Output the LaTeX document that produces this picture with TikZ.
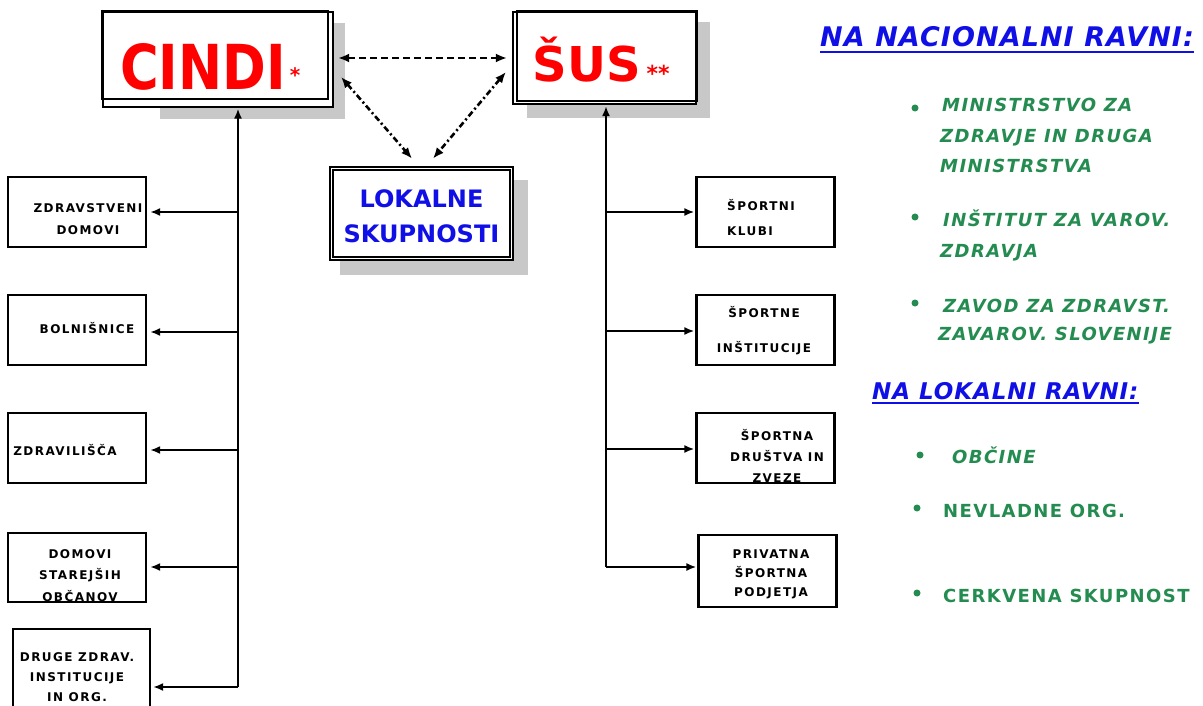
\documentclass[tikz,border=0pt]{standalone}
\usepackage{fontspec}
\setmainfont{DejaVu Sans}
\newfontfamily\lblfont[LetterSpace=12]{DejaVu Sans}
\newfontfamily\grnfont[LetterSpace=8]{DejaVu Sans}
\newfontfamily\hdrfont[LetterSpace=4]{DejaVu Sans}
\usetikzlibrary{arrows.meta,calc}
\definecolor{cred}{RGB}{255,0,0}
\definecolor{cblue}{RGB}{16,16,230}
\definecolor{cgreen}{RGB}{36,140,80}
\definecolor{shadowgray}{RGB}{200,200,200}
\tikzset{
  boxline/.style={draw=black, line width=2.2pt},
  bigbox/.style={boxline, fill=white, rectangle, inner sep=0pt},
  smallbox/.style={boxline, fill=white, rectangle, inner sep=0pt, minimum width=138pt, minimum height=70pt},
  lbl/.style={inner sep=0pt, align=center, font=\lblfont\bfseries\fontsize{12}{22}\selectfont},
  conn/.style={draw=black, line width=2.4pt, -{Latex[length=10pt,width=8pt]}},
  dasharr/.style={draw=black, line width=2.6pt, {Latex[length=11pt,width=9pt]}-{Latex[length=11pt,width=9pt]}},
  hdr/.style={inner sep=0pt, anchor=base west, text=cblue},
  grn/.style={inner sep=0pt, anchor=base west, text=cgreen},
  bullet/.style={circle, fill=cgreen, inner sep=0pt, minimum size=7pt},
}
\begin{document}
\begin{tikzpicture}[x=1pt,y=-1pt]
\useasboundingbox (0,0) rectangle (1203,706);
\clip (0,0) rectangle (1203,706);
\fill[white] (0,0) rectangle (1203,706);
% shadows
\fill[shadowgray] (160,23) rectangle (345,119);
\fill[shadowgray] (527,22) rectangle (710,118);
\fill[shadowgray] (340,180) rectangle (528,275);
% main boxes
\node[bigbox, minimum width=230pt, minimum height=95pt] (cindi) at (218,59.5) {};
\draw[boxline] (cindi.north west) rectangle ($(cindi.south east)+(-6,-9)$);
\node[bigbox, minimum width=183pt, minimum height=92pt] (sus) at (604.5,58) {};
\draw[boxline] ($(sus.north west)+(5,0)$) rectangle ($(sus.south east)+(0,-4)$);
\node[bigbox, line width=2.8pt, minimum width=183pt, minimum height=93pt] (lok) at (421.5,213.5) {};
\draw[black, line width=1.4pt] ($(lok.north west)+(4.5,4.5)$) rectangle ($(lok.south east)+(-4.5,-4.5)$);
% main texts
\node[anchor=base, inner sep=0pt, text=cred, font=\bfseries\fontsize{62}{62}\selectfont] (cinditxt) at (203,90) {\scalebox{0.85}[1]{CINDI}};
\node[inner sep=0pt, text=cred, font=\bfseries\fontsize{20}{20}\selectfont] (cast) at (295,75) {*};
\node[anchor=base, inner sep=0pt, text=cred, font=\bfseries\fontsize{48}{48}\selectfont] (sustxt) at (587,82) {ŠUS};
\node[inner sep=0pt, text=cred, font=\bfseries\fontsize{22}{22}\selectfont] (sast) at (658,73) {**};
\node[inner sep=0pt, align=center, text=cblue, font=\bfseries\fontsize{24}{35}\selectfont] (loktxt) at (421.5,216.5) {LOKALNE\\SKUPNOSTI};
% dashed arrows
\draw[dasharr, dash pattern=on 7pt off 4pt] ($(cindi.east)+(4,-1.5)$) -- ($(sus.west)+(-5,0)$);
\draw[dasharr, dash pattern=on 6pt off 3pt on 2pt off 3pt] ($(cindi.east)+(7,17.5)$) -- ($(lok.north)+(-9.5,-7)$);
\draw[dasharr, dash pattern=on 6pt off 3pt on 2pt off 3pt] ($(sus.west)+(-6,14)$) -- ($(lok.north)+(11.5,-7)$);
% left boxes
\node[smallbox] (b1) at (77,212) {};
\node[smallbox] (b2) at (77,330) {};
\node[smallbox] (b3) at (77,448) {};
\node[smallbox, minimum height=69pt] (b4) at (77,567.5) {};
\node[smallbox, minimum width=137pt, minimum height=83pt] (b5) at (81.5,670.5) {};
\node[lbl] (t1) at (88,219) {ZDRAVSTVENI\\DOMOVI};
\node[lbl] (t2) at (87,328) {BOLNIŠNICE};
\node[lbl] (t3) at (65,450) {ZDRAVILIŠČA};
\node[lbl, font=\lblfont\bfseries\fontsize{12}{21.5}\selectfont] (t4) at (80,575.5) {DOMOVI\\STAREJŠIH\\OBČANOV};
\node[lbl, font=\lblfont\bfseries\fontsize{12}{20}\selectfont] (t5) at (77,677) {DRUGE ZDRAV.\\INSTITUCIJE\\IN ORG.};
% right boxes
\node[smallbox] (r1) at (765.5,212) {};
\node[smallbox] (r2) at (765.5,330) {};
\node[smallbox] (r3) at (765.5,448) {};
\node[smallbox, minimum height=72pt] (r4) at (767.5,571) {};
\node[lbl, align=left, anchor=west, font=\lblfont\bfseries\fontsize{12}{25}\selectfont] (u1) at (727,217.5) {ŠPORTNI\\KLUBI};
\node[lbl, font=\lblfont\bfseries\fontsize{12}{35}\selectfont] (u2) at (764,330.5) {ŠPORTNE\\INŠTITUCIJE};
\node[lbl, font=\lblfont\bfseries\fontsize{12}{21}\selectfont] (u3) at (777,456) {ŠPORTNA\\DRUŠTVA IN\\ZVEZE};
\node[lbl, font=\lblfont\bfseries\fontsize{12}{19}\selectfont] (u4) at (771,574) {PRIVATNA\\ŠPORTNA\\PODJETJA};
% left trunk
\coordinate (lbot) at (238,687);
\coordinate (l1) at (238,212);
\coordinate (l2) at (238,332);
\coordinate (l3) at (238,450);
\coordinate (l4) at (238,567);
\draw[conn, shorten >=0.5pt] (lbot) -- (lbot |- cindi.south);
\draw[conn, shorten >=3pt] (l1) -- (l1 -| b1.east);
\draw[conn, shorten >=3pt] (l2) -- (l2 -| b2.east);
\draw[conn, shorten >=3pt] (l3) -- (l3 -| b3.east);
\draw[conn, shorten >=3pt] (l4) -- (l4 -| b4.east);
\draw[conn, shorten >=2pt] (lbot) -- (lbot -| b5.east);
% right trunk
\coordinate (rbot) at (606,567);
\coordinate (q1) at (606,212);
\coordinate (q2) at (606,331);
\coordinate (q3) at (606,449);
\draw[conn, shorten >=1pt] (rbot) -- (rbot |- sus.south);
\draw[conn, shorten >=1pt] (q1) -- (q1 -| r1.west);
\draw[conn, shorten >=1pt] (q2) -- (q2 -| r2.west);
\draw[conn, shorten >=1pt] (q3) -- (q3 -| r3.west);
\draw[conn, shorten >=1pt] (rbot) -- (rbot -| r4.west);
% right column
\node[hdr, font=\hdrfont\bfseries\itshape\fontsize{27}{27}\selectfont] (h1) at (820,47) {NA NACIONALNI RAVNI:};
\draw[cblue, line width=2.2pt] ($(h1.base west)+(0,5)$) -- ($(h1.base east)+(0,5)$);
\node[bullet] (d1) at (915,108) {};
\node[grn, font=\grnfont\bfseries\itshape\fontsize{18}{18}\selectfont] (g1a) at (942,112) {MINISTRSTVO ZA};
\node[grn, font=\grnfont\bfseries\itshape\fontsize{18}{18}\selectfont] (g1b) at (940,143) {ZDRAVJE IN DRUGA};
\node[grn, font=\grnfont\bfseries\itshape\fontsize{18}{18}\selectfont] (g1c) at (940,173) {MINISTRSTVA};
\node[bullet] (d2) at (915,217) {};
\node[grn, font=\grnfont\bfseries\itshape\fontsize{18}{18}\selectfont] (g2a) at (943,226) {INŠTITUT ZA VAROV.};
\node[grn, font=\grnfont\bfseries\itshape\fontsize{18}{18}\selectfont] (g2b) at (940,258) {ZDRAVJA};
\node[bullet] (d3) at (915,303) {};
\node[grn, font=\grnfont\bfseries\itshape\fontsize{18}{18}\selectfont] (g3a) at (943,312) {ZAVOD ZA ZDRAVST.};
\node[grn, font=\grnfont\bfseries\itshape\fontsize{18}{18}\selectfont] (g3b) at (938,340) {ZAVAROV. SLOVENIJE};
\node[hdr, font=\hdrfont\bfseries\itshape\fontsize{23}{23}\selectfont] (h2) at (872,399) {NA LOKALNI RAVNI:};
\draw[cblue, line width=2.2pt] ($(h2.base west)+(0,4)$) -- ($(h2.base east)+(0,4)$);
\node[bullet] (d4) at (920,455) {};
\node[grn, font=\grnfont\bfseries\itshape\fontsize{18}{18}\selectfont] (g4) at (952,463) {OBČINE};
\node[bullet] (d5) at (917,508) {};
\node[grn, font=\grnfont\bfseries\fontsize{18}{18}\selectfont] (g5) at (943,517) {NEVLADNE ORG.};
\node[bullet] (d6) at (917,593) {};
\node[grn, font=\grnfont\bfseries\fontsize{18}{18}\selectfont] (g6) at (943,602) {CERKVENA SKUPNOST};
\end{tikzpicture}
\end{document}
